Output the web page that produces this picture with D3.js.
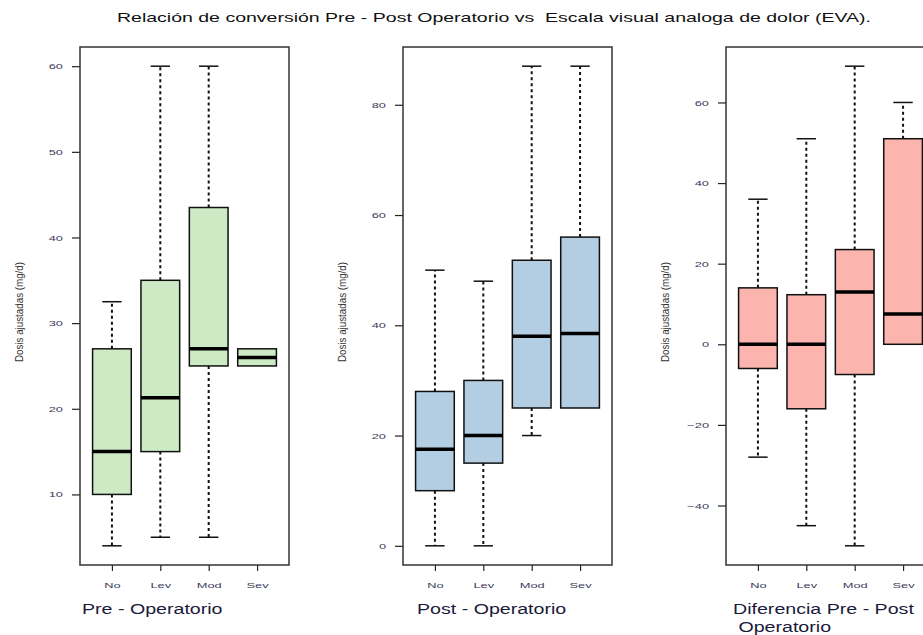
<!DOCTYPE html>
<html>
<head>
<meta charset="utf-8">
<script src="https://cdn.jsdelivr.net/npm/d3@7"></script>
<style>
  body { margin: 0; background: #fff; }
  svg { display: block; font-family: "Liberation Sans", Arial, sans-serif; }
</style>
</head>
<body>
<svg id="chart" width="923" height="635"></svg>
<script>
// Pain categories on the x axis
const categories = ["No", "Lev", "Mod", "Sev"];

// Five-number summaries per category: [lower whisker, Q1, median, Q3, upper whisker]
const preOperatorio = [
  [4, 10, 15, 27, 32.5],
  [5, 15, 21.3, 35, 60],
  [5, 25, 27, 43.5, 60],
  [25, 25, 26, 27, 27]
];
const postOperatorio = [
  [0, 10, 17.5, 28, 50],
  [0, 15, 20, 30, 48],
  [20, 25, 38, 51.8, 87],
  [25, 25, 38.5, 56, 87]
];
const diferencia = [
  [-28, -6, 0, 14, 36],
  [-45, -16, 0, 12.3, 51],
  [-50, -7.5, 13, 23.5, 69],
  [0, 0, 7.5, 51, 60]
];

// Tick values for each panel's y axis
const preTicks = [10, 20, 30, 40, 50, 60];
const postTicks = [0, 20, 40, 60, 80];
const difTicks = [-40, -20, 0, 20, 40, 60];

const title = "Relación de conversión Pre - Post Operatorio vs  Escala visual analoga de dolor (EVA).";
const yLabel = "Dosis ajustadas (mg/d)";

const panels = [
  { data: preOperatorio, ticks: preTicks, fill: "#CCEBC5", left: 80, label: ["Pre - Operatorio"], labelX: 82 },
  { data: postOperatorio, ticks: postTicks, fill: "#B3CDE3", left: 403, label: ["Post - Operatorio"], labelX: 417 },
  { data: diferencia, ticks: difTicks, fill: "#FBB4AE", left: 726, label: ["Diferencia Pre - Post", " Operatorio"], labelX: 733 }
];

const svg = d3.select("#chart");
const plotTop = 47, plotBottom = 565, panelW = 209;
const stretch = 1.5; // text is drawn horizontally widened

// widen a text element's glyphs by a factor, keeping its anchor point
function widen(sel, f) {
  sel.each(function () {
    const w = this.getComputedTextLength();
    d3.select(this).attr("textLength", w * f).attr("lengthAdjust", "spacingAndGlyphs");
  });
}

svg.append("text")
  .attr("x", 494).attr("y", 22)
  .attr("text-anchor", "middle")
  .attr("font-size", 13)
  .attr("fill", "#111")
  .attr("xml:space", "preserve")
  .style("white-space", "pre")
  .text(title)
  .call(widen, stretch);

panels.forEach(p => {
  const lo = d3.min(p.data, d => d[0]);
  const hi = d3.max(p.data, d => d[4]);
  const pad = (hi - lo) * 0.04;
  const y = d3.scaleLinear().domain([lo - pad, hi + pad]).range([plotBottom, plotTop]);
  const x = d3.scaleLinear().domain([0.34, categories.length + 0.66]).range([p.left, p.left + panelW]);
  const boxW = (x(1.4) - x(0.6));

  const g = svg.append("g");

  // y axis
  const yAxis = d3.axisLeft(y).tickValues(p.ticks).tickSize(8).tickPadding(9).tickFormat(d3.format("d"));
  const ya = g.append("g").attr("transform", `translate(${p.left},0)`).call(yAxis);
  ya.select(".domain").remove();
  ya.selectAll("line").attr("stroke", "#222").attr("stroke-width", 1.2);
  ya.selectAll("text").attr("font-size", 8).attr("fill", "#3a3a5a")
    .attr("font-family", "Liberation Sans, Arial, sans-serif").call(widen, 1.6);

  // x axis
  const xAxis = d3.axisBottom(x).tickValues(categories.map((c, i) => i + 1))
    .tickFormat((d, i) => categories[i]).tickSize(6).tickPadding(11);
  const xa = g.append("g").attr("transform", `translate(0,${plotBottom})`).call(xAxis);
  xa.select(".domain").remove();
  xa.selectAll("line").attr("stroke", "#222").attr("stroke-width", 1.2);
  xa.selectAll("text").attr("font-size", 8).attr("fill", "#3a3a5a")
    .attr("font-family", "Liberation Sans, Arial, sans-serif").call(widen, 1.6);

  // boxes
  p.data.forEach((d, i) => {
    const cx = x(i + 1);
    const bg = g.append("g");
    const dash = "3,3";
    if (d[4] > d[3]) {
      bg.append("line").attr("x1", cx).attr("x2", cx).attr("y1", y(d[3])).attr("y2", y(d[4]))
        .attr("stroke", "#111").attr("stroke-width", 2).attr("stroke-dasharray", dash);
      bg.append("line").attr("x1", cx - boxW / 4).attr("x2", cx + boxW / 4).attr("y1", y(d[4])).attr("y2", y(d[4]))
        .attr("stroke", "#111").attr("stroke-width", 1.5);
    }
    if (d[0] < d[1]) {
      bg.append("line").attr("x1", cx).attr("x2", cx).attr("y1", y(d[1])).attr("y2", y(d[0]))
        .attr("stroke", "#111").attr("stroke-width", 2).attr("stroke-dasharray", dash);
      bg.append("line").attr("x1", cx - boxW / 4).attr("x2", cx + boxW / 4).attr("y1", y(d[0])).attr("y2", y(d[0]))
        .attr("stroke", "#111").attr("stroke-width", 1.5);
    }
    bg.append("rect").attr("x", cx - boxW / 2).attr("y", y(d[3]))
      .attr("width", boxW).attr("height", y(d[1]) - y(d[3]))
      .attr("fill", p.fill).attr("stroke", "#111").attr("stroke-width", 1.5);
    bg.append("line").attr("x1", cx - boxW / 2).attr("x2", cx + boxW / 2).attr("y1", y(d[2])).attr("y2", y(d[2]))
      .attr("stroke", "#000").attr("stroke-width", 3.5);
  });

  // frame
  g.append("rect").attr("x", p.left).attr("y", plotTop).attr("width", panelW).attr("height", plotBottom - plotTop)
    .attr("fill", "none").attr("stroke", "#333").attr("stroke-width", 1.5);

  // y label
  g.append("text")
    .attr("transform", `translate(${p.left - 57},${(plotTop + plotBottom) / 2 + 6}) rotate(-90)`)
    .attr("text-anchor", "middle")
    .attr("font-size", 11.5)
    .attr("fill", "#333")
    .attr("textLength", 100)
    .attr("lengthAdjust", "spacingAndGlyphs")
    .text(yLabel);

  // panel caption
  p.label.forEach((t, k) => {
    g.append("text")
      .attr("x", p.labelX).attr("y", 614 + k * 18)
      .attr("font-size", 14)
      .attr("fill", "#1a1a3a")
      .attr("xml:space", "preserve")
      .style("white-space", "pre")
      .text(t)
      .call(widen, 1.4);
  });
});
</script>
</body>
</html>
